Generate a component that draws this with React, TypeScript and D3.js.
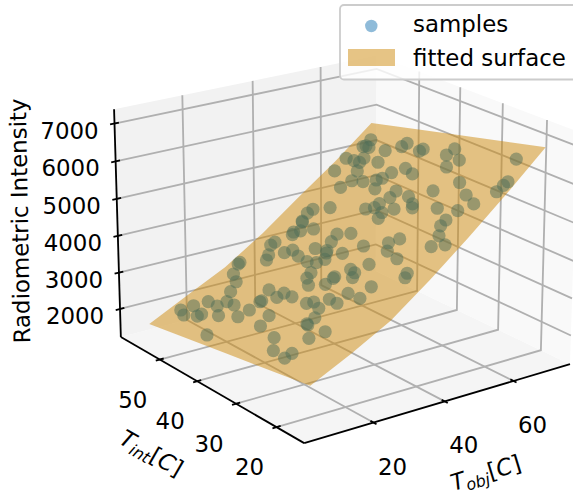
import React from 'react'
import * as d3 from 'd3'

const surfaceX = [6.3, 17.2, 28.2, 39.1, 50, 61, 71.9]
const surfaceY = [16.4, 37.1, 57.8]
const surfaceZ = [
  [2366, 2888, 3470, 4252, 5094, 5996, 6938],
  [1995, 2518, 3067, 3799, 4609, 5441, 6328],
  [1625, 2147, 2664, 3346, 4124, 4886, 5718],
]
const tObj = [
  67.7, 68.2, 67.2, 67.4, 66.8, 68.6, 66.9, 66.2, 64.2, 68.4, 66.0, 65.7, 65.7, 65.6, 62.9, 62.1, 61.9, 61.7, 62.5, 58.4,
  59.5, 60.7, 62.3, 61.3, 56.8, 57.1, 58.2, 58.9, 54.6, 56.0, 56.5, 54.7, 55.8, 58.3, 61.3, 58.8, 57.2, 63.3, 62.4, 60.8,
  55.0, 54.6, 54.4, 53.5, 52.3, 52.8, 51.6, 50.8, 50.9, 49.4, 49.2, 47.8, 46.6, 44.4, 44.2, 43.3, 42.1, 41.4, 40.7, 43.5,
  44.5, 41.5, 46.0, 44.6, 42.4, 52.5, 51.0, 48.8, 47.2, 46.1, 39.0, 37.1, 37.8, 36.8, 35.9, 36.1, 35.4, 38.7, 39.3, 37.1,
  35.8, 39.6, 38.8, 42.7, 41.6, 33.1, 31.6, 30.1, 31.5, 33.8, 33.4, 36.5, 36.0, 34.8, 34.0, 31.1, 30.8, 39.2, 38.1, 26.4,
  26.1, 25.7, 26.6, 28.5, 28.2, 25.5, 22.8, 20.7, 20.5, 20.3, 17.4, 12.3, 10.5, 30.4, 29.9, 34.3, 32.9, 27.0, 25.2, 22.1,
  25.9, 24.7, 22.5, 22.1, 19.2, 19.0, 17.5, 15.1, 17.2, 19.1, 12.8, 11.8, 13.7, 12.8, 14.9, 16.4, 19.4, 16.1, 9.0, 14.5,
  11.3,
]
const tInt = [
  54.4, 45.7, 46.2, 41.1, 41.5, 34.5, 35.1, 31.5, 32.9, 20.2, 54.2, 54.7, 53.2, 49.0, 52.1, 56.0, 53.8, 52.2, 48.2, 55.8,
  50.9, 43.3, 41.2, 38.7, 50.0, 47.4, 45.0, 44.1, 51.0, 43.5, 38.7, 38.7, 35.1, 31.3, 27.5, 24.0, 21.0, 18.1, 18.4, 18.7,
  22.9, 27.3, 33.0, 32.3, 35.7, 39.7, 39.9, 41.4, 37.5, 37.1, 49.0, 52.2, 52.6, 52.0, 51.8, 48.1, 50.4, 51.6, 51.3, 42.3,
  39.7, 42.0, 29.1, 30.6, 34.8, 23.6, 23.6, 22.2, 19.5, 21.8, 43.9, 48.0, 53.3, 53.5, 49.1, 45.7, 42.8, 40.8, 41.2, 39.8,
  40.8, 37.6, 30.4, 29.3, 26.1, 39.8, 39.5, 37.8, 34.8, 34.5, 34.5, 32.9, 31.5, 31.0, 25.8, 28.9, 25.8, 21.7, 21.3, 40.7,
  38.4, 34.4, 33.4, 31.2, 29.1, 31.2, 29.8, 29.9, 29.5, 25.1, 26.5, 26.1, 26.3, 55.9, 55.9, 51.8, 51.1, 54.5, 52.1, 50.7,
  44.1, 41.0, 42.9, 43.0, 49.0, 46.9, 52.4, 54.1, 49.7, 43.0, 55.4, 53.6, 50.6, 50.9, 47.2, 43.5, 38.2, 37.4, 44.7, 32.5,
  29.8,
]
const intensity = [
  5492, 5780, 5684, 5846, 5790, 6132, 5976, 6023, 5817, 6528, 5369, 5331, 5374, 5480, 5190, 5020, 5061, 5091, 5264, 4757,
  4962, 5250, 5431, 5419, 4794, 4885, 5022, 5098, 4610, 4902, 5063, 4924, 5101, 5385, 5723, 5618, 5566, 6148, 6060, 5915,
  5346, 5201, 5040, 4992, 4818, 4755, 4662, 4571, 4667, 4564, 4272, 4099, 4001, 3858, 3848, 3863, 3723, 3646, 3605, 4011,
  4140, 3867, 4496, 4351, 4100, 5123, 5006, 4866, 4805, 4665, 3644, 3432, 3361, 3295, 3334, 3413, 3428, 3689, 3722, 3606,
  3497, 3825, 3925, 4242, 4232, 3344, 3246, 3184, 3335, 3498, 3466, 3715, 3711, 3635, 3693, 3425, 3467, 4140, 4071, 2908,
  2939, 2992, 3061, 3206, 3223, 3043, 2934, 2823, 2819, 2895, 2717, 2480, 2391, 2840, 2806, 3168, 3099, 2671, 2631, 2510,
  2821, 2816, 2675, 2654, 2399, 2429, 2258, 2110, 2293, 2505, 1979, 1966, 2110, 2061, 2224, 2363, 2610, 2462, 1991, 2469,
  2364,
]
const xTicks = [20, 40, 60]
const yTicks = [20, 30, 40, 50]
const zTicks = [2000, 3000, 4000, 5000, 6000, 7000]
const xLim = [1.22, 77]
const yLim = [13.4, 60.8]
const zLim = [1220, 7374]

const W = 573, H = 496
const elev = (20 * Math.PI) / 180, azim = (-126 * Math.PI) / 180, dist = 10
const K = 2743, CX = 342.7, CY = 237.1
const sx = d3.scaleLinear().domain(xLim).range([-0.595, 0.595])
const sy = d3.scaleLinear().domain(yLim).range([-0.595, 0.595])
const sz = d3.scaleLinear().domain(zLim).range([-0.4465, 0.4465])

// same view as mplot3d: 4:4:3 box seen from elev/azim at distance 10
function project(x: number, y: number, z: number): [number, number] {
  const hx = sx(x), hy = sy(y), hz = sz(z)
  const ce = Math.cos(elev), se = Math.sin(elev), ca = Math.cos(azim), sa = Math.sin(azim)
  const xv = -sa * hx + ca * hy
  const yv = -se * ca * hx - se * sa * hy + ce * hz
  const w = dist - (ce * ca * hx + ce * sa * hy + se * hz)
  return [CX + (K * xv) / w, CY - (K * yv) / w]
}

const line = d3.line<number[]>().x((d) => project(d[0], d[1], d[2])[0]).y((d) => project(d[0], d[1], d[2])[1])

const GRID = '#b0b0b0'
const FS = 22.9
const LW = 1.83
const SURFACE = 'rgb(206,138,12)'

export default function App() {
  const [x0, x1] = xLim, [y0, y1] = yLim, [z0, z1] = zLim
  const floor = [[x0, y0, z0], [x1, y0, z0], [x1, y1, z0], [x0, y1, z0]]
  const leftWall = [[x0, y1, z0], [x1, y1, z0], [x1, y1, z1], [x0, y1, z1]]
  const rightWall = [[x1, y0, z0], [x1, y1, z0], [x1, y1, z1], [x1, y0, z1]]

  const outline: number[][] = []
  surfaceX.forEach((x, i) => outline.push([x, surfaceY[0], surfaceZ[0][i]]))
  surfaceY.forEach((y, j) => outline.push([surfaceX[6], y, surfaceZ[j][6]]))
  ;[...surfaceX].reverse().forEach((x, i) => outline.push([x, surfaceY[2], surfaceZ[2][6 - i]]))
  ;[...surfaceY].reverse().forEach((y, j) => outline.push([surfaceX[0], y, surfaceZ[2 - j][0]]))

  return (
    <svg width={W} height={H} style={{ position: 'absolute', left: 0, top: 0, fontFamily: '"DejaVu Sans"' }}>
      <path d={line(floor) + 'Z'} fill="#f5f5f5" />
      <path d={line(leftWall) + 'Z'} fill="#f2f2f2" />
      <path d={line(rightWall) + 'Z'} fill="#f9f9f9" />
      <g fill="none" stroke={GRID} strokeWidth={LW}>
        {xTicks.map((t) => <path key={t} d={line([[t, y0, z0], [t, y1, z0], [t, y1, z1]])!} />)}
        {yTicks.map((t) => <path key={t} d={line([[x0, t, z0], [x1, t, z0], [x1, t, z1]])!} />)}
        {zTicks.map((t) => <path key={t} d={line([[x0, y1, t], [x1, y1, t], [x1, y0, t]])!} />)}
      </g>
      <g fill="none" stroke="#000" strokeWidth={LW}>
        <path d={line([[x0, y0, z0], [x1, y0, z0]])!} />
        <path d={line([[x0, y0, z0], [x0, y1, z0]])!} />
        <path d={line([[x0, y1, z0], [x0, y1, z1]])!} />
        {xTicks.map((t) => <path key={t} d={line([[t, y0 - 0.7, z0], [t, y0 + 0.7, z0]])!} />)}
        {yTicks.map((t) => <path key={t} d={line([[x0 - 1.1, t, z0], [x0 + 1.1, t, z0]])!} />)}
        {zTicks.map((t) => <path key={t} d={line([[x0 - 1.2, y1, t], [x0 + 1.2, y1, t]])!} />)}
      </g>
      <path d={line(outline) + 'Z'} fill={SURFACE} fillOpacity={0.5} />
      <g fill="rgb(80,110,88)" fillOpacity={0.5}>
        {tObj.map((d, i) => {
          const [a, b] = project(d, tInt[i], intensity[i])
          return <circle key={i} cx={a} cy={b} r={6.6} />
        })}
      </g>
      <g fontSize={FS} textAnchor="middle" dominantBaseline="central">
        {xTicks.map((t) => {
          const [a, b] = project(t, y0, z0)
          return <text key={t} x={a + 19} y={b + 44}>{t}</text>
        })}
        {yTicks.map((t) => {
          const [a, b] = project(x0, t, z0)
          return <text key={t} x={a - 27} y={b + 40}>{t}</text>
        })}
        {zTicks.map((t) => {
          const [a, b] = project(x0, y1, t)
          return <text key={t} x={a - 45} y={b + 7}>{t}</text>
        })}
      </g>
      <text transform="translate(20,221) rotate(-91)" fontSize={FS} textAnchor="middle" dominantBaseline="central">Radiometric Intensity</text>
      <text transform="translate(147.5,460) rotate(30)" fontSize={FS} textAnchor="middle">
        <tspan fontStyle="italic">T</tspan>
        <tspan fontStyle="italic" fontSize={FS * 0.7} dy={4}>int</tspan>
        <tspan dy={-4}>[</tspan><tspan fontStyle="italic">C</tspan><tspan>]</tspan>
      </text>
      <text transform="translate(488,480.5) rotate(-17)" fontSize={FS} textAnchor="middle">
        <tspan fontStyle="italic">T</tspan>
        <tspan fontStyle="italic" fontSize={FS * 0.7} dy={4}>obj</tspan>
        <tspan dy={-4}>[</tspan><tspan fontStyle="italic">C</tspan><tspan>]</tspan>
      </text>
      <rect x={340} y={5} width={260} height={74.5} rx={4} fill="#fff" fillOpacity={0.8} stroke="#cccccc" strokeWidth={1.8} />
      <circle cx={371.3} cy={26} r={6.2} fill="rgb(31,119,180)" fillOpacity={0.5} />
      <rect x={348} y={49} width={47} height={17} fill={SURFACE} fillOpacity={0.5} />
      <text x={413} y={32} fontSize={FS}>samples</text>
      <text x={413} y={65.5} fontSize={FS}>fitted surface</text>
    </svg>
  )
}
